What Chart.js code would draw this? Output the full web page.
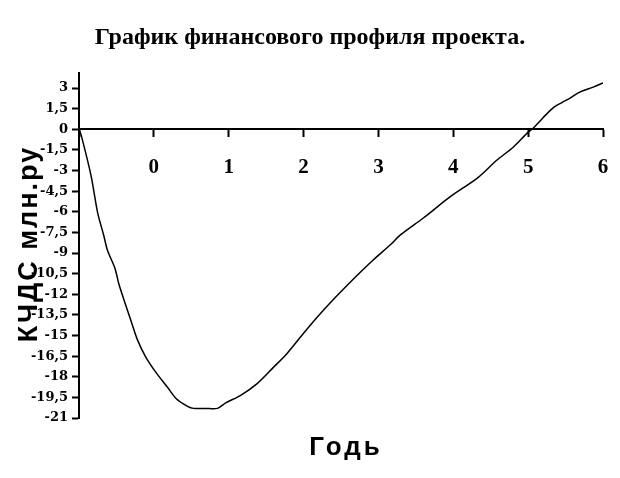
<!DOCTYPE html>
<html>
<head>
<meta charset="utf-8">
<script src="https://cdn.jsdelivr.net/npm/chart.js@4"></script>
<style>
  html, body { margin: 0; padding: 0; background: #fff; }
  #wrap { width: 620px; height: 478px; }
</style>
</head>
<body>
<div id="wrap"><canvas id="profileChart"></canvas></div>
<script>
// годы (ось X) и КЧДС, млн. руб (ось Y)
var years = [-1, -0.97, -0.84, -0.75, -0.67, -0.62, -0.52, -0.47, -0.4, -0.31, -0.22, -0.11,
  0.03, 0.18, 0.3, 0.45, 0.53, 0.69, 0.85, 0.96, 1.16, 1.38, 1.6, 1.78, 2.05, 2.36, 2.72,
  2.93, 3.16, 3.29, 3.6, 3.96, 4.32, 4.58, 4.8, 5.0, 5.07, 5.2, 5.33, 5.45, 5.56, 5.69, 5.87, 6.0];
var kchds = [0, -0.44, -3.35, -6.1, -7.7, -8.8, -10.1, -11.2, -12.4, -13.85, -15.3, -16.55,
  -17.7, -18.75, -19.6, -20.15, -20.3, -20.3, -20.3, -19.9, -19.35, -18.5, -17.3, -16.3, -14.5,
  -12.6, -10.6, -9.5, -8.4, -7.7, -6.45, -4.9, -3.55, -2.25, -1.3, -0.2, 0.1, 0.85, 1.55, 1.95,
  2.27, 2.71, 3.07, 3.38];
var yTicks = [3, 1.5, 0, -1.5, -3, -4.5, -6, -7.5, -9, -10.5, -12, -13.5, -15, -16.5, -18, -19.5, -21];
var xTicks = [0, 1, 2, 3, 4, 5, 6];

var titleText = 'График финансового профиля проекта.';
var xTitle = 'Годь';
var yTitle = 'КЧДС млн.ру';

var points = years.map(function (x, i) { return { x: x, y: kchds[i] }; });

// подписи осей рисуем сами, как в оригинале (они налезают на метки)
var axisTitles = {
  id: 'axisTitles',
  afterDraw: function (chart) {
    var ctx = chart.ctx;
    ctx.save();
    ctx.fillStyle = '#000';
    ctx.font = 'bold 26px "Liberation Sans"';
    ctx.textAlign = 'center';
    ctx.textBaseline = 'middle';
    ctx.letterSpacing = '3px';
    ctx.fillText(xTitle, 346, 448);
    ctx.font = 'bold 27px "Liberation Sans"';
    ctx.letterSpacing = '2px';
    ctx.translate(30, 244);
    ctx.rotate(-Math.PI / 2);
    ctx.fillText(yTitle, 0, 0);
    ctx.restore();
  }
};

var ctx = document.getElementById('profileChart').getContext('2d');
var myChart = new Chart(ctx, {
  type: 'line',
  data: {
    datasets: [{
      data: points,
      borderColor: '#000',
      borderWidth: 1.5,
      pointRadius: 0,
      tension: 0.3,
      fill: false
    }]
  },
  options: {
    responsive: true,
    maintainAspectRatio: false,
    animation: false,
    layout: {
      padding: { left: 17, right: 17, top: 0, bottom: 60 }
    },
    plugins: {
      legend: { display: false },
      tooltip: { enabled: false },
      title: {
        display: true,
        text: titleText,
        color: '#000',
        font: { family: '"Liberation Serif"', size: 24, weight: 'bold', lineHeight: 1.2 },
        padding: { top: 23, bottom: 21.2 }
      }
    },
    scales: {
      x: {
        type: 'linear',
        position: { y: 0 },
        min: -1,
        max: 6,
        afterBuildTicks: function (scale) {
          scale.ticks = [{ value: -1 }].concat(xTicks.map(function (v) { return { value: v }; }));
        },
        // ось проходит через 0, поэтому отступы под подписи не нужны
        afterFit: function (scale) { scale.paddingLeft = 0; scale.paddingRight = 0; },
        ticks: {
          color: '#000',
          padding: 19,
          maxRotation: 0,
          font: { family: '"Liberation Serif"', size: 21, weight: 'bold' },
          callback: function (v) { return v < 0 ? '' : v; }
        },
        grid: { drawOnChartArea: false, tickLength: 7, tickWidth: 2, color: '#000' },
        border: { display: true, color: '#000', width: 2 }
      },
      y: {
        type: 'linear',
        min: -21,
        max: 4.1,
        afterBuildTicks: function (scale) {
          scale.ticks = yTicks.map(function (v) { return { value: v }; });
        },
        afterFit: function (scale) { scale.width = 62; },
        ticks: {
          color: '#000',
          padding: 4,
          font: { family: '"DejaVu Serif"', size: 13, weight: 'bold' },
          callback: function (v) { return String(v).replace('.', ','); }
        },
        grid: { drawOnChartArea: false, tickLength: 7, tickWidth: 2, color: '#000' },
        border: { display: true, color: '#000', width: 2 }
      }
    }
  },
  plugins: [axisTitles]
});
</script>
</body>
</html>
